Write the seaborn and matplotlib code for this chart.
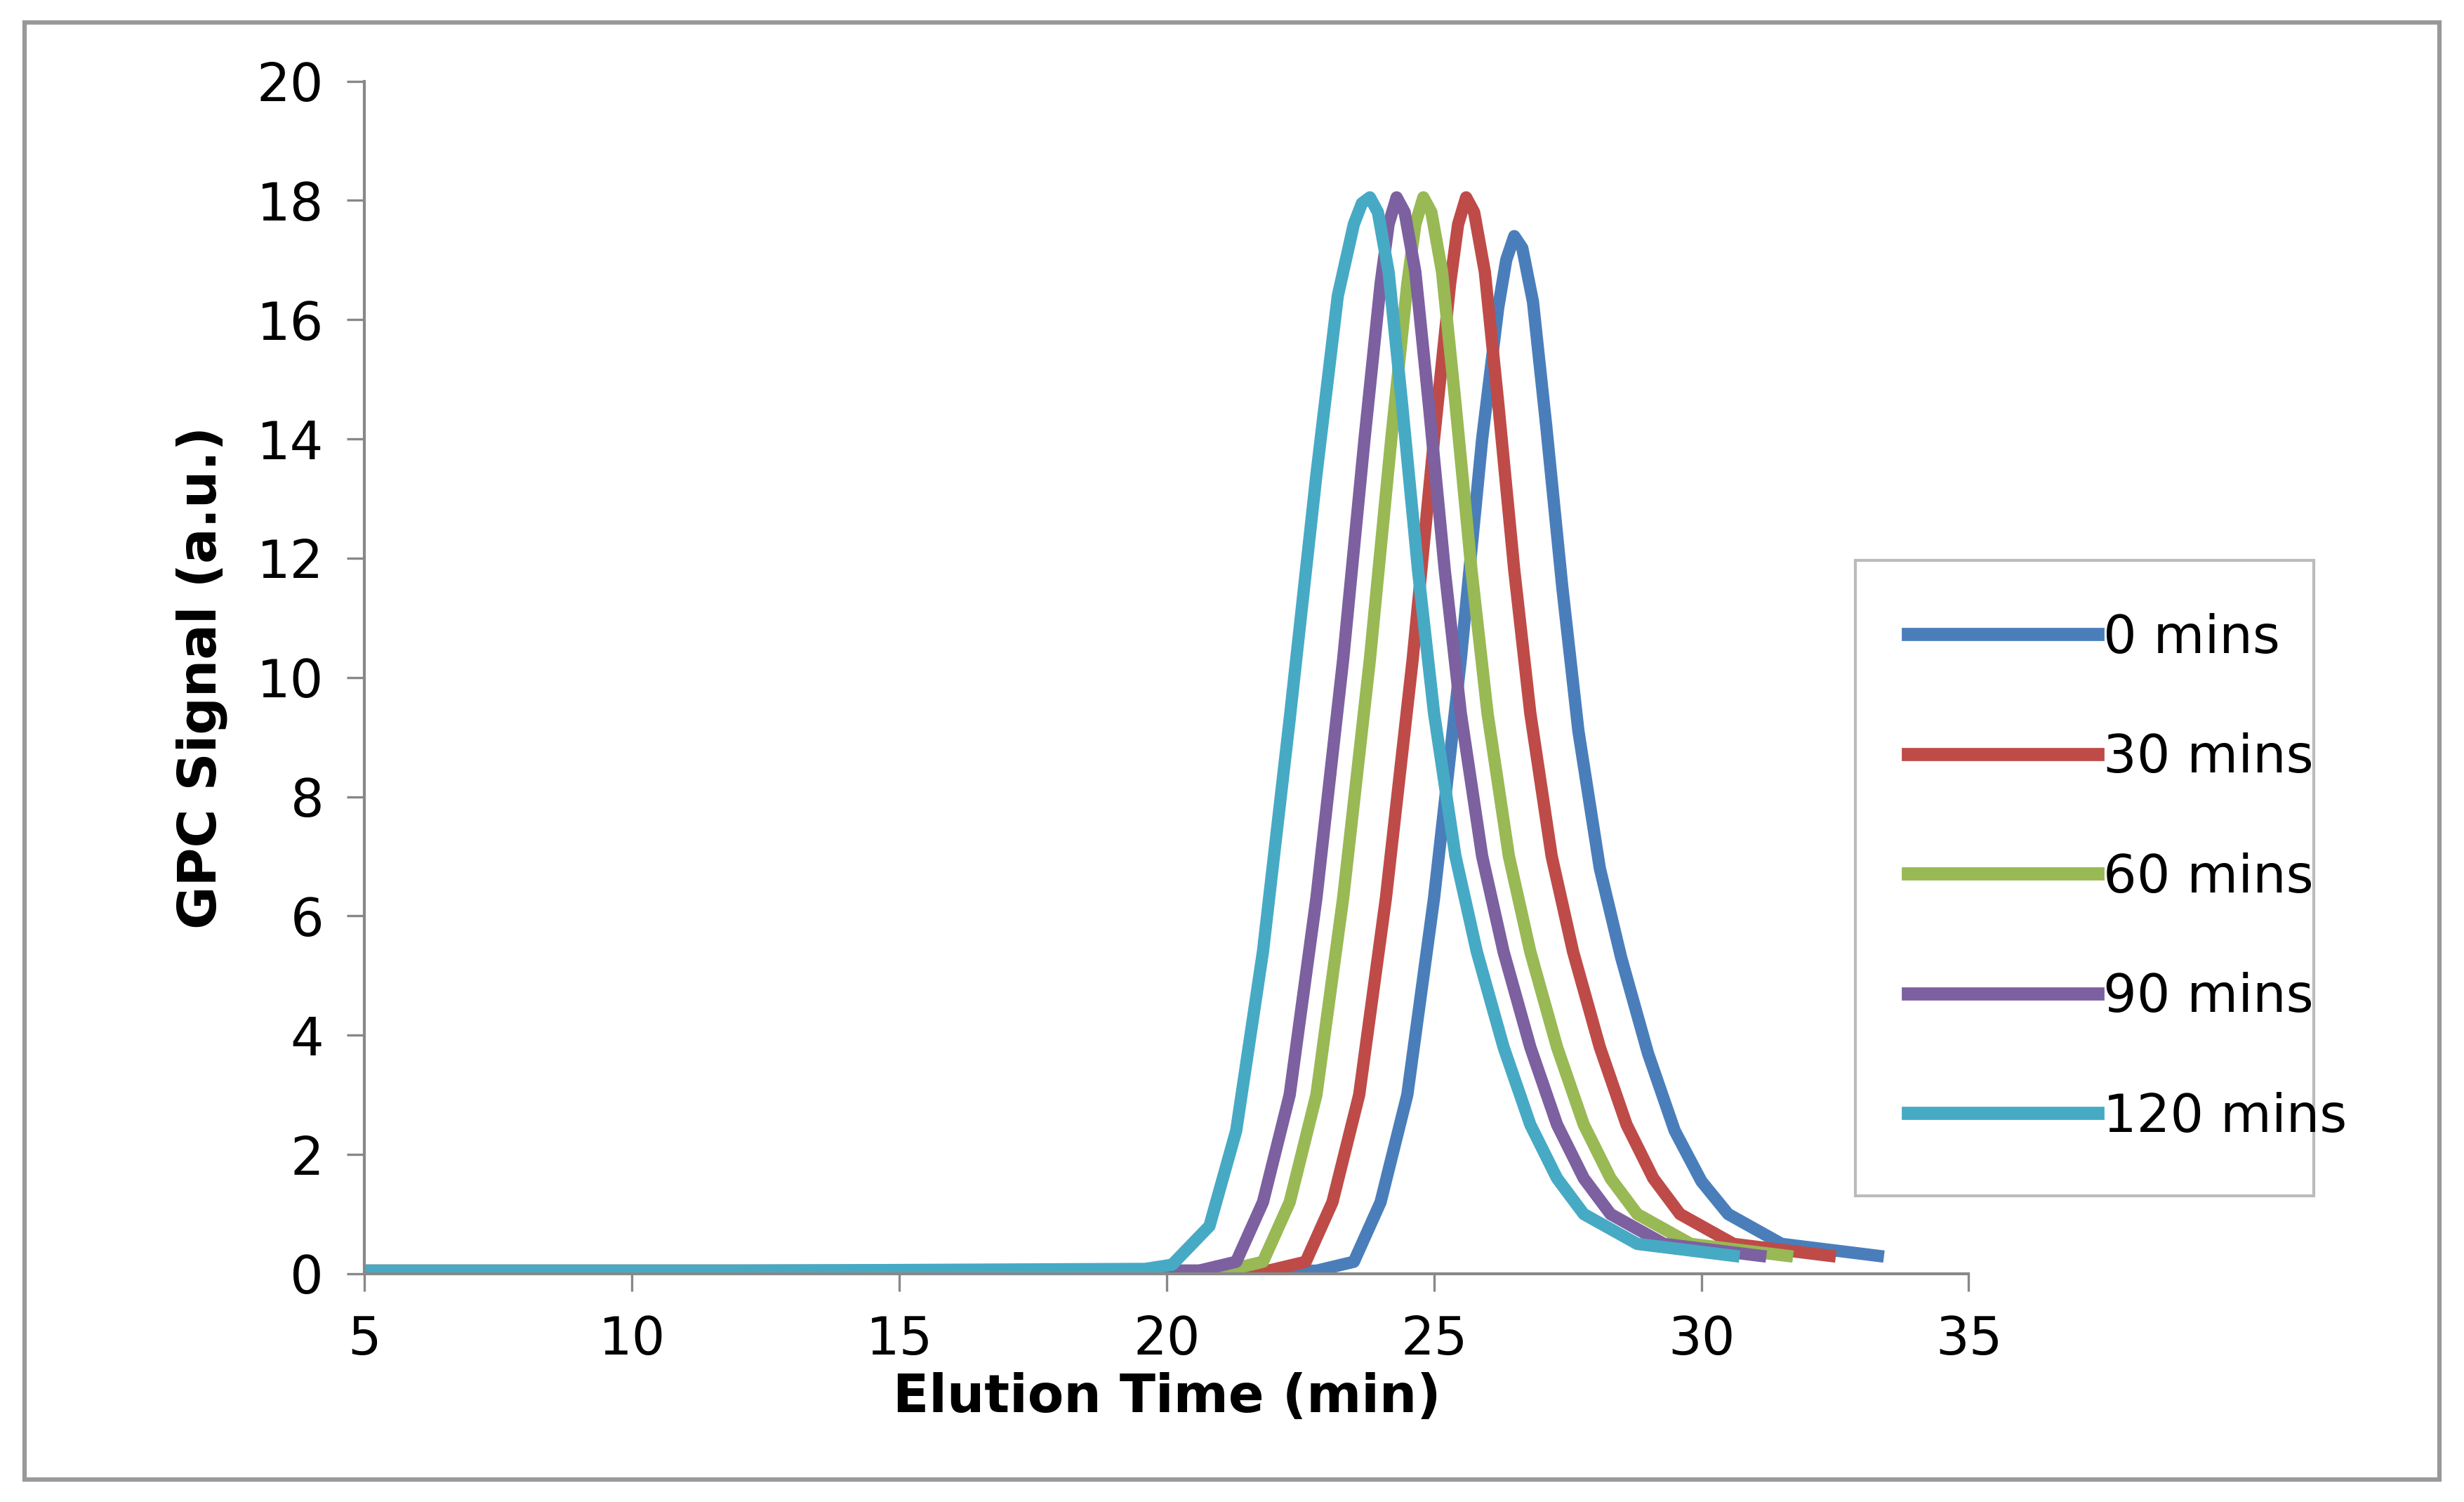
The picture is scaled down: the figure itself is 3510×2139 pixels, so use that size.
import matplotlib
matplotlib.use("Agg")
import matplotlib.pyplot as plt
import seaborn as sns
import pandas as pd
from matplotlib.patches import Rectangle

labels = ["0 mins", "30 mins", "60 mins", "90 mins", "120 mins"]
colors = ["#4a7ebb", "#be4b48", "#98b954", "#7d60a0", "#46aac5"]

x0 = [5, 12, 22.8, 23.5, 24.0, 24.5, 25.0, 25.5, 25.9, 26.2, 26.35, 26.5, 26.65, 26.85, 27.1, 27.4, 27.7, 28.1, 28.5, 29.0, 29.5, 30.0, 30.5, 31.5, 33.3]
y0 = [0.05, 0.05, 0.05, 0.2, 1.2, 3.0, 6.3, 10.3, 14.0, 16.2, 17.0, 17.4, 17.2, 16.3, 14.2, 11.5, 9.1, 6.8, 5.3, 3.7, 2.4, 1.55, 1.0, 0.5, 0.3]
x30 = [5, 12, 21.9, 22.6, 23.1, 23.6, 24.1, 24.6, 25.0, 25.3, 25.45, 25.6, 25.75, 25.95, 26.2, 26.5, 26.8, 27.2, 27.6, 28.1, 28.6, 29.1, 29.6, 30.6, 32.4]
y30 = [0.05, 0.05, 0.05, 0.2, 1.2, 3.0, 6.3, 10.3, 14.0, 16.6, 17.6, 18.05, 17.8, 16.8, 14.6, 11.8, 9.4, 7.0, 5.4, 3.8, 2.5, 1.6, 1.0, 0.5, 0.3]
x60 = [5, 12, 21.1, 21.8, 22.3, 22.8, 23.3, 23.8, 24.2, 24.5, 24.65, 24.8, 24.95, 25.15, 25.4, 25.7, 26.0, 26.4, 26.8, 27.3, 27.8, 28.3, 28.8, 29.8, 31.6]
y60 = [0.05, 0.05, 0.05, 0.2, 1.2, 3.0, 6.3, 10.3, 14.0, 16.6, 17.6, 18.05, 17.8, 16.8, 14.6, 11.8, 9.4, 7.0, 5.4, 3.8, 2.5, 1.6, 1.0, 0.5, 0.3]
x90 = [5, 12, 20.6, 21.3, 21.8, 22.3, 22.8, 23.3, 23.7, 24.0, 24.15, 24.3, 24.45, 24.65, 24.9, 25.2, 25.5, 25.9, 26.3, 26.8, 27.3, 27.8, 28.3, 29.3, 31.1]
y90 = [0.05, 0.05, 0.05, 0.2, 1.2, 3.0, 6.3, 10.3, 14.0, 16.6, 17.6, 18.05, 17.8, 16.8, 14.6, 11.8, 9.4, 7.0, 5.4, 3.8, 2.5, 1.6, 1.0, 0.5, 0.3]
x120 = [5, 12, 19.6, 20.1, 20.8, 21.3, 21.8, 22.3, 22.8, 23.2, 23.5, 23.65, 23.8, 23.95, 24.15, 24.4, 24.7, 25.0, 25.4, 25.8, 26.3, 26.8, 27.3, 27.8, 28.8, 30.6]
y120 = [0.05, 0.05, 0.08, 0.15, 0.8, 2.4, 5.4, 9.3, 13.4, 16.4, 17.6, 17.95, 18.05, 17.8, 16.8, 14.6, 11.8, 9.4, 7.0, 5.4, 3.8, 2.5, 1.6, 1.0, 0.5, 0.3]

xs = [x0, x30, x60, x90, x120]
ys = [y0, y30, y60, y90, y120]
frames = []
for lab, xx, yy in zip(labels, xs, ys):
    frames.append(pd.DataFrame({"t": xx, "s": yy, "series": lab}))
df = pd.concat(frames, ignore_index=True)

fig = plt.figure(figsize=(11.7, 7.13), dpi=300)
ax = fig.add_axes([0.148, 0.152, 0.651, 0.794])
sns.lineplot(data=df, x="t", y="s", hue="series", hue_order=labels,
             palette=colors, linewidth=4.2, ax=ax, legend=False, sort=False)

ax.set_xlim(5, 35)
ax.set_ylim(0, 20)
ax.set_xticks(range(5, 36, 5))
ax.set_yticks(range(0, 21, 2))
for s in ["top", "right"]:
    ax.spines[s].set_visible(False)
for s in ["left", "bottom"]:
    ax.spines[s].set_color("#888888")
    ax.spines[s].set_linewidth(1.0)
ax.tick_params(direction="out", length=6, color="#888888", labelsize=18, pad=8)
ax.set_xlabel("Elution Time (min)", fontsize=18, fontweight="bold", labelpad=2)
ax.set_ylabel("GPC Signal (a.u.)", fontsize=18, fontweight="bold", labelpad=10)

handles = [plt.Line2D([], [], color=c, linewidth=4.5) for c in colors]
leg = fig.legend(handles, labels, loc="lower left",
                 bbox_to_anchor=(0.753, 0.204, 0.186, 0.448), mode="expand",
                 fontsize=18, handlelength=3.6, labelspacing=1.3,
                 frameon=True, fancybox=False, borderpad=1.0, handletextpad=0.1,
                 borderaxespad=0)
leg.get_frame().set_edgecolor("#aaaaaa")
leg.get_frame().set_linewidth(1.0)

fig.patches.append(Rectangle((0.01, 0.015), 0.98, 0.97, transform=fig.transFigure,
                             fill=False, edgecolor="#999999", linewidth=1.5))
fig.savefig("out.png", dpi=300)
